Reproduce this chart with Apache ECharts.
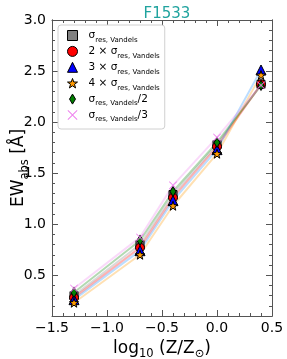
<!DOCTYPE html>
<html><head><meta charset="utf-8">
<script src="https://cdn.jsdelivr.net/npm/echarts@6/dist/echarts.min.js"></script>
<style>html,body{margin:0;padding:0;background:#fff}#c{width:287px;height:359px}</style>
</head><body><div id="c"></div>
<script>
// ---- data ----
const metallicity = [-1.3, -0.7, -0.4, 0.0, 0.4];
const ewSigma1 = [0.30, 0.80, 1.29, 1.78, 2.37];
const ewSigma2 = [0.28, 0.77, 1.26, 1.76, 2.37];
const ewSigma3 = [0.26, 0.74, 1.23, 1.73, 2.51];
const ewSigma4 = [0.23, 0.70, 1.18, 1.69, 2.46];
const ewSigmaHalf = [0.33, 0.84, 1.32, 1.80, 2.36];
const ewSigmaThird = [0.37, 0.87, 1.38, 1.85, 2.36];
const yMajorTicks = [0.5, 1.0, 1.5, 2.0, 2.5, 3.0];
const yMinorTicks = [0.2, 0.3, 0.4, 0.6, 0.7, 0.8, 0.9, 1.1, 1.2, 1.3, 1.4, 1.6, 1.7, 1.8, 1.9, 2.1, 2.2, 2.3, 2.4, 2.6, 2.7, 2.8, 2.9];
const seriesNames = ['σres,Vandels', '2×σres,Vandels', '3×σres,Vandels', '4×σres,Vandels', 'σres,Vandels/2', 'σres,Vandels/3'];
const legendRich = [
  '{g| }{m|σ}{s|res, Vandels}',
  '{g| }{m|2 × σ}{s|res, Vandels}',
  '{g| }{m|3 × σ}{s|res, Vandels}',
  '{g| }{m|4 × σ}{s|res, Vandels}',
  '{g| }{m|σ}{s|res, Vandels}{m|/2}',
  '{g| }{m|σ}{s|res, Vandels}{m|/3}'
];

const FONT = 'DejaVu Sans';
const STAR = 'path://M0,-10 L2.35,-3.24 L9.51,-3.09 L3.8,1.24 L5.88,8.09 L0,4 L-5.88,8.09 L-3.8,1.24 L-9.51,-3.09 L-2.35,-3.24 Z';
const XMARK = 'path://M-10,-8.6 L-8.6,-10 L0,-1.4 L8.6,-10 L10,-8.6 L1.4,0 L10,8.6 L8.6,10 L0,1.4 L-8.6,10 L-10,8.6 L-1.4,0 Z';
const THINDIAMOND = 'path://M0,-10 L6,0 L0,10 L-6,0 Z';
const styles = [
  {color: '#808080', symbol: 'rect', size: 8, border: true},
  {color: '#ff0000', symbol: 'circle', size: 9, border: true},
  {color: '#0000ff', symbol: 'triangle', size: 10, border: true},
  {color: '#ff9900', symbol: STAR, size: 9, border: true},
  {color: '#008000', symbol: 'diamond', size: [6, 10], border: true},
  {color: '#ee82ee', symbol: XMARK, size: 8, border: false}
];
const legendIcons = ['rect', 'circle', 'triangle', STAR, THINDIAMOND, XMARK];
const values = [ewSigma1, ewSigma2, ewSigma3, ewSigma4, ewSigmaHalf, ewSigmaThird];
const lineColors = ['#808080', '#ff0000', '#1e90ff', '#ff9900', '#008000', '#ee82ee'];

const series = [];
values.forEach((v, i) => {
  series.push({
    type: 'line', silent: true, name: seriesNames[i] + '_line',
    data: metallicity.map((x, j) => [x, v[j]]),
    showSymbol: false, z: 1,
    lineStyle: {color: lineColors[i], width: 2, opacity: 0.3}
  });
});
values.forEach((v, i) => {
  const s = styles[i];
  series.push({
    type: 'scatter', name: seriesNames[i],
    data: metallicity.map((x, j) => [x, v[j]]),
    symbol: s.symbol, symbolSize: s.size, z: 5 + i,
    itemStyle: {color: s.color, opacity: 1, borderColor: s.border ? '#000' : 'transparent', borderWidth: s.border ? 1 : 0}
  });
});

const axisColor = '#555';
const fmtMinus = v => (v < 0 ? '\u2212' + Math.abs(v).toFixed(1) : v.toFixed(1));
const baseY = (pos, labels, ticks, len) => ({
  type: 'value', position: pos, min: 0.1, max: 3.0,
  axisLine: {show: true, onZero: false, lineStyle: {color: axisColor, width: 1}},
  axisTick: {show: true, inside: true, length: len, customValues: ticks, lineStyle: {color: axisColor}},
  axisLabel: labels ? {show: true, customValues: yMajorTicks, formatter: v => v.toFixed(1), fontFamily: FONT, fontSize: 14, color: '#000', margin: 6} : {show: false},
  splitLine: {show: false}
});

const rich = {
  g: {width: 6, fontSize: 10.5},
  m: {fontFamily: FONT, fontSize: 10.5, color: '#000', lineHeight: 16, verticalAlign: 'middle'},
  s: {fontFamily: FONT, fontSize: 7, color: '#000', verticalAlign: 'bottom'}
};

const option = {
  animation: false,
  backgroundColor: '#fff',
  title: {text: 'F1533', left: 162, textAlign: 'center', top: 2,
    textStyle: {fontFamily: FONT, fontSize: 15, fontWeight: 'normal', color: '#20a39e'}},
  grid: {left: 52, right: 15, top: 20, bottom: 43, containLabel: false, outerBoundsMode: 'none'},
  legend: {
    orient: 'vertical', left: 58, top: 25, padding: [5, 5, 6, 9],
    backgroundColor: '#fff', borderColor: '#d0d0d0', borderWidth: 1, borderRadius: 3,
    itemWidth: 10, itemHeight: 10, itemGap: 2.4,
    data: seriesNames.map((n, i) => ({name: n, icon: legendIcons[i],
      itemStyle: {color: styles[i].color, borderColor: styles[i].border ? '#000' : 'transparent', borderWidth: styles[i].border ? 1 : 0}})),
    formatter: name => legendRich[seriesNames.indexOf(name)],
    textStyle: {rich: rich}
  },
  xAxis: [
    {type: 'value', position: 'bottom', min: -1.5, max: 0.5, interval: 0.5,
      name: '{m|log}{s|10}{m| (Z/Z}{s|⊙}{m|)}', nameLocation: 'middle', nameGap: 20,
      nameTextStyle: {rich: {
        m: {fontFamily: FONT, fontSize: 17, color: '#000', lineHeight: 24, verticalAlign: 'middle'},
        s: {fontFamily: FONT, fontSize: 11.5, color: '#000', verticalAlign: 'bottom'}}},
      axisLine: {show: true, onZero: false, lineStyle: {color: axisColor}},
      axisTick: {show: true, inside: true, length: 6, lineStyle: {color: axisColor}},
      minorTick: {show: true, splitNumber: 5, length: 3, lineStyle: {color: axisColor}},
      axisLabel: {formatter: fmtMinus, fontFamily: FONT, fontSize: 14, color: '#000', margin: 5},
      splitLine: {show: false}, minorSplitLine: {show: false}},
    {type: 'value', position: 'top', min: -1.5, max: 0.5, interval: 0.5,
      axisLine: {show: true, onZero: false, lineStyle: {color: axisColor}},
      axisTick: {show: true, inside: true, length: 6, lineStyle: {color: axisColor}},
      minorTick: {show: true, splitNumber: 5, length: 3, lineStyle: {color: axisColor}},
      axisLabel: {show: false}, splitLine: {show: false}, minorSplitLine: {show: false}}
  ],
  yAxis: [
    Object.assign(baseY('left', true, yMajorTicks, 6), {
      name: '{m|EW}{s|abs}{m| [Å]}', nameLocation: 'middle', nameGap: 21, nameMoveOverlap: false,
      nameTextStyle: {rich: {
        m: {fontFamily: FONT, fontSize: 17, color: '#000', lineHeight: 24, verticalAlign: 'middle'},
        s: {fontFamily: FONT, fontSize: 11.5, color: '#000', verticalAlign: 'bottom'}}}
    }),
    baseY('right', false, yMajorTicks, 6),
    baseY('left', false, yMinorTicks, 3),
    baseY('right', false, yMinorTicks, 3)
  ],
  series: series
};
const chart = echarts.init(document.getElementById('c'), null, {renderer: 'canvas'});
chart.setOption(option);
</script></body></html>
